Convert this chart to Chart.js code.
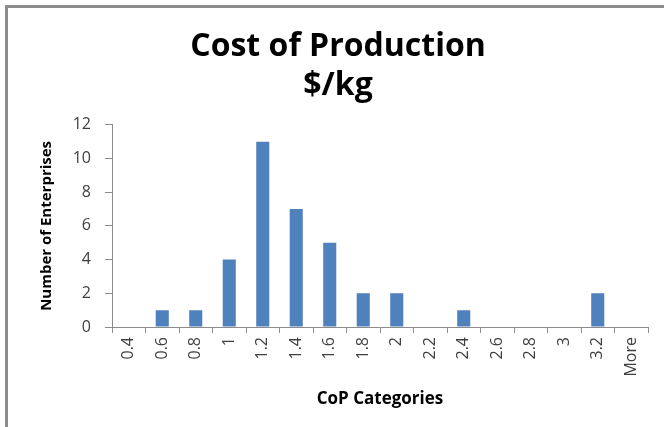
<!DOCTYPE html>
<html>
<head>
<meta charset="utf-8">
<script src="https://cdn.jsdelivr.net/npm/chart.js@4/dist/chart.umd.min.js"></script>
<style>
  html, body { margin: 0; padding: 0; background: #fff; }
  #wrap { position: relative; width: 664px; height: 427px; overflow: hidden; }
  #frame { position: absolute; left: 5px; top: 5px; width: 700px; height: 500px;
           border-left: 3px solid #8c8c8c; border-top: 3px solid #8c8c8c; }
  canvas { position: absolute; left: 0; top: 0; }
</style>
</head>
<body>
<div id="wrap">
  <div id="frame"></div>
  <canvas id="c" width="664" height="427"></canvas>
</div>
<script>
// Histogram bins (upper bound of each cost band, $/kg)
const categories = ['0.4', '0.6', '0.8', '1', '1.2', '1.4', '1.6', '1.8', '2', '2.2', '2.4', '2.6', '2.8', '3', '3.2', 'More'];
// Number of enterprises falling into each band
const frequency = [0, 1, 1, 4, 11, 7, 5, 2, 2, 0, 1, 0, 0, 0, 2, 0];
// Y axis tick values
const yTicks = [0, 2, 4, 6, 8, 10, 12];

const FONT = '"Open Sans", Lato, sans-serif';
const AXIS = '#8c8c8c';
const LABEL = '#404040';

new Chart(document.getElementById('c'), {
  type: 'bar',
  data: {
    labels: categories,
    datasets: [{
      label: 'Frequency',
      data: frequency,
      backgroundColor: '#4f81bd',
      borderWidth: 0,
      barPercentage: 0.39,
      categoryPercentage: 1.0
    }]
  },
  options: {
    responsive: false,
    animation: false,
    layout: { padding: { left: 28, right: 16, top: 0, bottom: 0 } },
    plugins: {
      legend: { display: false },
      tooltip: { enabled: false },
      title: {
        display: true,
        text: ['Cost of Production', '$/kg'],
        color: '#000',
        font: { family: FONT, size: 32, weight: 'bold', lineHeight: 1.2 },
        padding: { top: 28, bottom: 20 }
      }
    },
    scales: {
      x: {
        offset: true,
        grid: { display: true, drawOnChartArea: false, drawTicks: true, tickLength: 6, color: AXIS, offset: true },
        border: { display: true, color: AXIS, width: 1 },
        ticks: {
          color: LABEL, font: { family: FONT, size: 16 },
          minRotation: 90, maxRotation: 90, autoSkip: false, padding: 4
        },
        title: {
          display: true, text: 'CoP Categories', color: '#000',
          font: { family: FONT, size: 17, weight: 'bold' },
          padding: { top: 0, bottom: 18 }
        },
        afterFit(scale) { scale.height = 100; }
      },
      y: {
        min: 0, max: 12,
        afterBuildTicks(scale) { scale.ticks = yTicks.map(v => ({ value: v })); },
        grid: { display: true, drawOnChartArea: false, drawTicks: true, tickLength: 7, color: AXIS },
        border: { display: true, color: AXIS, width: 1 },
        ticks: { color: LABEL, font: { family: FONT, size: 16 }, padding: 14 },
        title: {
          display: true, text: 'Number of Enterprises', color: '#000',
          font: { family: FONT, size: 15, weight: 'bold' },
          padding: { top: 10, bottom: 0 }
        },
        afterFit(scale) { scale.width = 84; }
      }
    }
  }
});
</script>
</body>
</html>
